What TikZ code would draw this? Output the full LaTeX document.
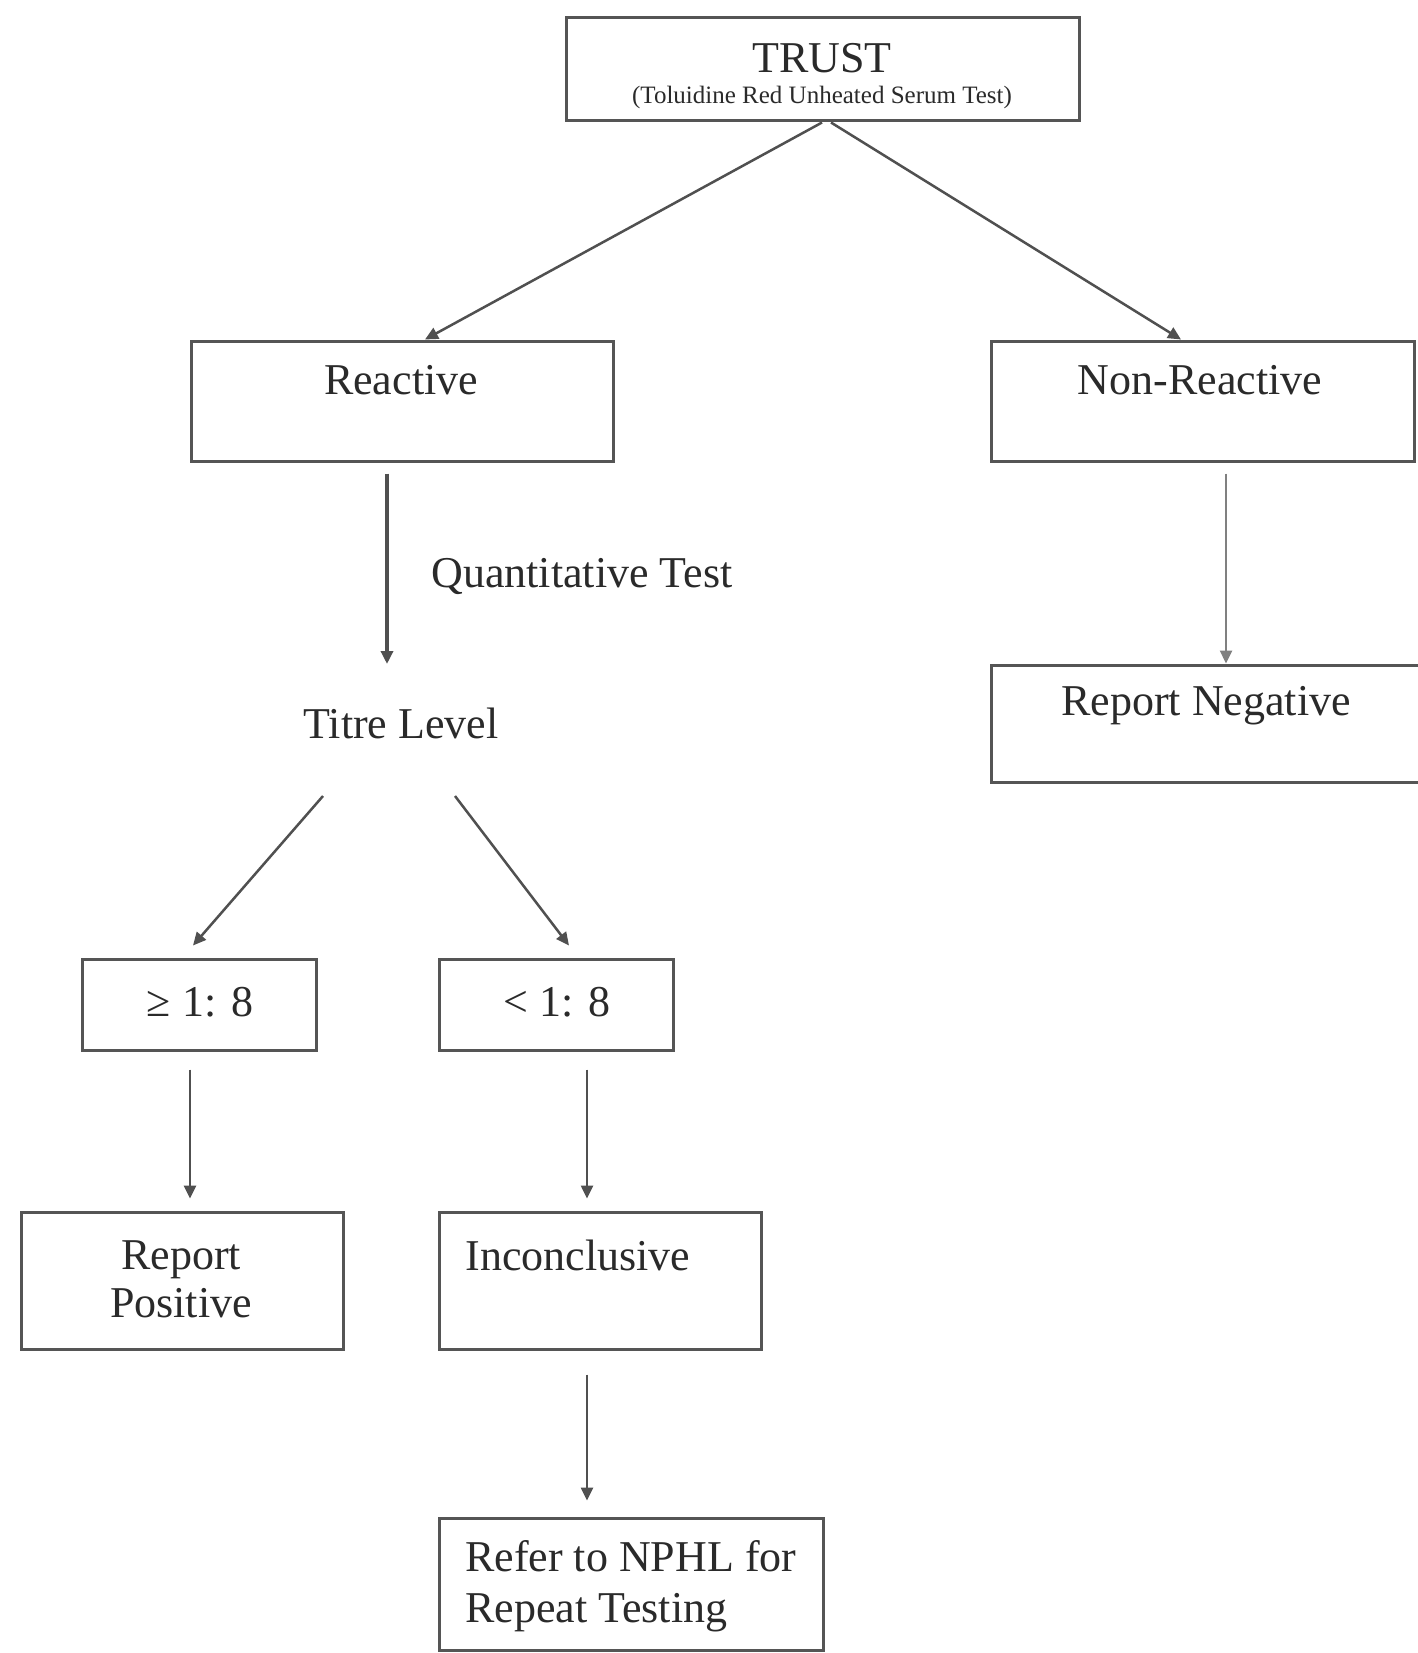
\documentclass[tikz,border=0pt]{standalone}
\usepackage{fontspec}
\setmainfont{Liberation Serif}
\usetikzlibrary{arrows.meta}
\definecolor{boxgray}{HTML}{555555}
\definecolor{linegray}{HTML}{505050}
\definecolor{txt}{HTML}{2A2A2A}
\begin{document}
\begin{tikzpicture}[x=1pt,y=-1pt,
  box/.style={draw=boxgray, line width=3pt, rectangle, inner sep=0pt},
  lbl/.style={text=txt, font=\fontsize{44}{48}\selectfont, inner sep=0pt, align=center},
  arr/.style={draw=linegray, line width=2.5pt, -{Triangle[length=13pt,width=12pt]}}]
\useasboundingbox (0,0) rectangle (1417,1653);
\fill[white] (0,0) rectangle (1417,1653);
% boxes
\node[box, minimum width=513pt, minimum height=103pt] (trust) at (822.5,69.5) {};
\node[box, minimum width=422pt, minimum height=120pt] (reactive) at (402,401) {};
\node[box, minimum width=423pt, minimum height=120pt] (nonreact) at (1202.5,401) {};
\node[box, minimum width=439pt, minimum height=117pt] (neg) at (1210.5,723.5) {};
\node[box, minimum width=234pt, minimum height=91pt] (ge) at (199,1004.5) {};
\node[box, minimum width=234pt, minimum height=91pt] (lt) at (556,1004.5) {};
\node[box, minimum width=322pt, minimum height=137pt] (pos) at (182,1280.5) {};
\node[box, minimum width=322pt, minimum height=137pt] (inc) at (600,1280.5) {};
\node[box, minimum width=384pt, minimum height=132pt] (refer) at (631,1584) {};
% texts
\node[lbl] (ttrust) at (822,58) {TRUST};
\node[lbl, font=\fontsize{25}{28}\selectfont] (tsub) at (822,97) {(Toluidine Red Unheated Serum Test)};
\node[lbl] (treactive) at (401,380) {Reactive};
\node[lbl] (tnonreact) at (1200,380) {Non-Reactive};
\node[lbl] (tneg) at (1206,706) {Report Negative};
\node[lbl] (tquant) at (582,576) {Quantitative Test};
\node[lbl] (titre) at (401,723) {Titre Level};
\node[lbl] (tge) at (200,1002) {≥ 1: 8};
\node[lbl] (tlt) at (557,1002) {< 1: 8};
\node[lbl] (tpos) at (181,1279) {Report\\Positive};
\node[lbl] (tinc) at (578,1255) {Inconclusive};
\node[lbl, font=\fontsize{44}{51}\selectfont, align=left, anchor=west] (trefer) at (465,1586) {Refer to NPHL for\\Repeat Testing};
% free-end coordinates
\coordinate (qend) at (387,664);
\coordinate (tl) at (323,796);
\coordinate (tr) at (455,796);
% connectors
\draw[arr] ([xshift=-0.5pt]trust.south) -- ([xshift=23pt]reactive.north);
\draw[arr] ([xshift=8.5pt]trust.south) -- ([xshift=-21.5pt]nonreact.north);
\draw[arr, line width=3.5pt] ([xshift=-15pt,yshift=-11pt]reactive.south) -- (qend);
\draw[arr, draw=gray] ([xshift=23.5pt,yshift=-11pt]nonreact.south) -- ([xshift=15.5pt]neg.north);
\draw[arr] (tl) -- ([xshift=-6pt,yshift=12pt]ge.north);
\draw[arr] (tr) -- ([xshift=13pt,yshift=12pt]lt.north);
\draw[arr] ([xshift=-9pt,yshift=-18pt]ge.south) -- ([xshift=8pt,yshift=12pt]pos.north);
\draw[arr] ([xshift=31pt,yshift=-18pt]lt.south) -- ([xshift=-13pt,yshift=12pt]inc.north);
\draw[arr] ([xshift=-13pt,yshift=-24pt]inc.south) -- ([xshift=-44pt,yshift=16pt]refer.north);
\end{tikzpicture}
\end{document}
